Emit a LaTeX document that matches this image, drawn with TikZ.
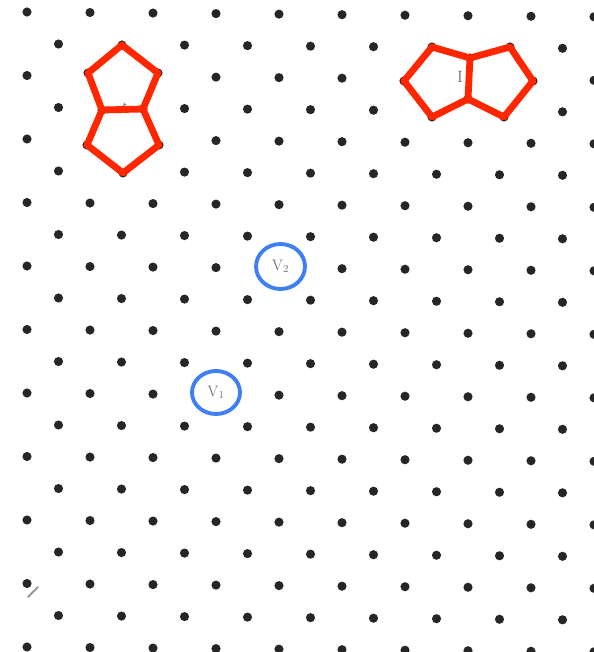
\documentclass[tikz,border=0pt]{standalone}
\usepackage{tikz}
\usetikzlibrary{shapes.geometric}
\definecolor{bondred}{RGB}{255,38,0}
\definecolor{ringblue}{RGB}{62,128,242}
\newcommand{\skipatom}[2]{\expandafter\def\csname skip-#1-#2\endcsname{}}
% lattice sites taken over by the defects
\skipatom{1}{1}\skipatom{2}{1}\skipatom{2}{2}\skipatom{3}{1}\skipatom{4}{1}\skipatom{4}{2}\skipatom{5}{1}
\skipatom{1}{6}\skipatom{1}{7}\skipatom{2}{6}\skipatom{2}{7}\skipatom{2}{8}\skipatom{3}{6}\skipatom{3}{7}
\skipatom{8}{4}\skipatom{12}{3}

\begin{document}
\begin{tikzpicture}[x=0.03cm, y=-0.03cm,
  atom/.style={circle, fill=black!85, inner sep=0pt, minimum size=7.8pt},
  bond/.style={bondred, line width=5.8pt, line join=round},
  vac/.style={ellipse, draw=ringblue, line width=3.3pt, text=black!55,
              inner sep=0pt, font=\fontsize{13}{13}\selectfont},
  signmark/.style={text=black!55, inner sep=0pt, font=\fontsize{14}{14}\selectfont},
]
\path[fill=white, use as bounding box] (0,0) rectangle (593,652);

% lattice
\foreach \j in {0,...,20}{
  \ifodd\j \def\xo{58.5}\def\kmax{8}\else \def\xo{27}\def\kmax{9}\fi
  \foreach \k in {0,...,\kmax}{
    \ifcsname skip-\j-\k\endcsname\else
      \pgfmathsetmacro\xx{\xo+63*\k}
      \pgfmathsetmacro\yy{12+31.75*\j+0.0085*(\xx-27)}
      \node[atom] (a-\j-\k) at (\xx,\yy) {};
    \fi
  }
}

% left pentagon pair (stacked)
\node[atom] (l1) at (122,45) {};
\node[atom] (l2) at (158,73) {};
\node[atom] (l3) at (143,109) {};
\node[atom] (l4) at (102,110) {};
\node[atom] (l5) at (88,73) {};
\node[atom] (l6) at (159,145) {};
\node[atom] (l7) at (123,173) {};
\node[atom] (l8) at (87,145) {};
\node[signmark, rotate=-36] (lm) at (122,109) {I};
\draw[bond] (l1.center) -- (l2.center) -- (l3.center) -- (l4.center) -- (l5.center) -- cycle;
\draw[bond] (l3.center) -- (l6.center) -- (l7.center) -- (l8.center) -- (l4.center);

% right pentagon pair (side by side)
\node[atom] (r1) at (432,47) {};
\node[atom] (r2) at (470,58) {};
\node[atom] (r3) at (468,99) {};
\node[atom] (r4) at (432,117) {};
\node[atom] (r5) at (404,81) {};
\node[atom] (r6) at (510,47) {};
\node[atom] (r7) at (533,81) {};
\node[atom] (r8) at (504,117) {};
\node[signmark] (rm) at (460,77) {I};
\draw[bond] (r1.center) -- (r2.center) -- (r3.center) -- (r4.center) -- (r5.center) -- cycle;
\draw[bond] (r2.center) -- (r6.center) -- (r7.center) -- (r8.center) -- (r3.center);

% vacancies
\node[vac, minimum width=41.8pt, minimum height=38.4pt] (v2) at (280.5,266.5) {V$_2$};
\node[vac, minimum width=41pt, minimum height=36.7pt] (v1) at (216,392.5) {V$_1$};

% scratch, bottom left
\coordinate (s1) at (28,597);
\coordinate (s2) at (38,587);
\draw[black!40, line width=1.6pt, line cap=round] (s1) -- (s2);
\end{tikzpicture}
\end{document}
